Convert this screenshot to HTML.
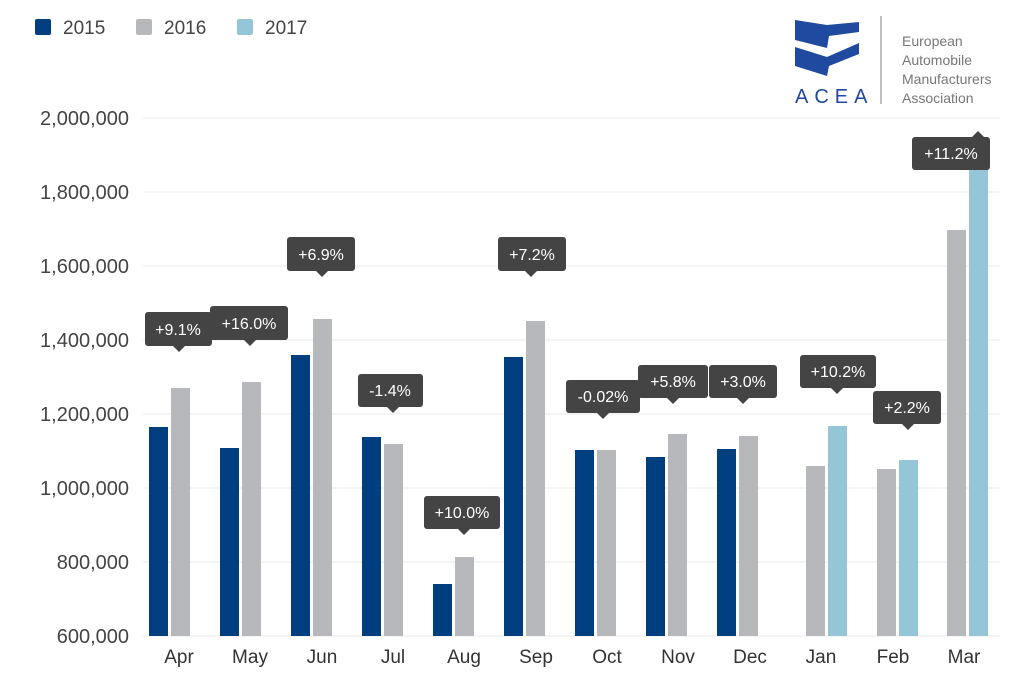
<!DOCTYPE html>
<html><head><meta charset="utf-8"><style>
body{margin:0;background:#fff;width:1024px;height:684px;overflow:hidden;font-family:"Liberation Sans",sans-serif}
</style></head><body>
<svg width="1024" height="684" xmlns="http://www.w3.org/2000/svg" font-family="Liberation Sans, sans-serif">
<g stroke="#e8e8e8" stroke-width="1">
<line x1="143" x2="1000" y1="118" y2="118"/><line x1="143" x2="1000" y1="192" y2="192"/><line x1="143" x2="1000" y1="266" y2="266"/><line x1="143" x2="1000" y1="340" y2="340"/><line x1="143" x2="1000" y1="414" y2="414"/><line x1="143" x2="1000" y1="488" y2="488"/><line x1="143" x2="1000" y1="562" y2="562"/><line x1="143" x2="1000" y1="636" y2="636"/>
</g>
<g font-size="20" fill="#444" text-anchor="end">
<text x="129" y="125">2,000,000</text><text x="129" y="199">1,800,000</text><text x="129" y="273">1,600,000</text><text x="129" y="347">1,400,000</text><text x="129" y="421">1,200,000</text><text x="129" y="495">1,000,000</text><text x="129" y="569">800,000</text><text x="129" y="643">600,000</text>
</g>
<g font-size="19" fill="#333" text-anchor="middle">
<text x="179" y="663">Apr</text><text x="250" y="663">May</text><text x="322" y="663">Jun</text><text x="393" y="663">Jul</text><text x="464" y="663">Aug</text><text x="536" y="663">Sep</text><text x="607" y="663">Oct</text><text x="678" y="663">Nov</text><text x="750" y="663">Dec</text><text x="821" y="663">Jan</text><text x="893" y="663">Feb</text><text x="964" y="663">Mar</text>
</g>
<g>
<rect x="149" y="427" width="19" height="209" fill="#003f7f"/><rect x="171" y="388" width="19" height="248" fill="#b7b8bc"/>
<rect x="220" y="448" width="19" height="188" fill="#003f7f"/><rect x="242" y="382" width="19" height="254" fill="#b7b8bc"/>
<rect x="291" y="355" width="19" height="281" fill="#003f7f"/><rect x="313" y="319" width="19" height="317" fill="#b7b8bc"/>
<rect x="362" y="437" width="19" height="199" fill="#003f7f"/><rect x="384" y="444" width="19" height="192" fill="#b7b8bc"/>
<rect x="433" y="584" width="19" height="52" fill="#003f7f"/><rect x="455" y="557" width="19" height="79" fill="#b7b8bc"/>
<rect x="504" y="357" width="19" height="279" fill="#003f7f"/><rect x="526" y="321" width="19" height="315" fill="#b7b8bc"/>
<rect x="575" y="450" width="19" height="186" fill="#003f7f"/><rect x="597" y="450" width="19" height="186" fill="#b7b8bc"/>
<rect x="646" y="457" width="19" height="179" fill="#003f7f"/><rect x="668" y="434" width="19" height="202" fill="#b7b8bc"/>
<rect x="717" y="449" width="19" height="187" fill="#003f7f"/><rect x="739" y="436" width="19" height="200" fill="#b7b8bc"/>
<rect x="806" y="466" width="19" height="170" fill="#b7b8bc"/><rect x="828" y="426" width="19" height="210" fill="#95c6d7"/>
<rect x="877" y="469" width="19" height="167" fill="#b7b8bc"/><rect x="899" y="460" width="19" height="176" fill="#95c6d7"/>
<rect x="947" y="230" width="19" height="406" fill="#b7b8bc"/><rect x="969" y="145" width="19" height="491" fill="#95c6d7"/>
</g>
<g fill="#444" font-size="16" text-anchor="middle">
<g><rect x="145" y="312" width="67" height="34" rx="3"/><path d="M173 346h12l-6 6z"/><text x="178" y="335" fill="#fff">+9.1%</text></g>
<g><rect x="210" y="306" width="78" height="34" rx="3"/><path d="M244 340h12l-6 6z"/><text x="249" y="329" fill="#fff">+16.0%</text></g>
<g><rect x="287" y="237" width="68" height="34" rx="3"/><path d="M316 271h12l-6 6z"/><text x="321" y="260" fill="#fff">+6.9%</text></g>
<g><rect x="358" y="374" width="65" height="33" rx="3"/><path d="M387 407h12l-6 6z"/><text x="390" y="396" fill="#fff">-1.4%</text></g>
<g><rect x="424" y="496" width="76" height="33" rx="3"/><path d="M458 529h12l-6 6z"/><text x="462" y="518" fill="#fff">+10.0%</text></g>
<g><rect x="498" y="237" width="68" height="34" rx="3"/><path d="M525 271h12l-6 6z"/><text x="532" y="260" fill="#fff">+7.2%</text></g>
<g><rect x="566" y="380" width="74" height="33" rx="3"/><path d="M597 413h12l-6 6z"/><text x="603" y="402" fill="#fff">-0.02%</text></g>
<g><rect x="638" y="365" width="70" height="33" rx="3"/><path d="M667 398h12l-6 6z"/><text x="673" y="387" fill="#fff">+5.8%</text></g>
<g><rect x="709" y="365" width="68" height="33" rx="3"/><path d="M737 398h12l-6 6z"/><text x="743" y="387" fill="#fff">+3.0%</text></g>
<g><rect x="800" y="355" width="76" height="33" rx="3"/><path d="M831 388h12l-6 6z"/><text x="838" y="377" fill="#fff">+10.2%</text></g>
<g><rect x="873" y="391" width="68" height="33" rx="3"/><path d="M902 424h12l-6 6z"/><text x="907" y="413" fill="#fff">+2.2%</text></g>
<g><rect x="912" y="137" width="78" height="33" rx="3"/><path d="M972 137h12l-6 -6z"/><text x="951" y="159" fill="#fff">+11.2%</text></g>
</g>
<g font-size="19" fill="#444">
<rect x="35" y="19" width="16" height="16" rx="2" fill="#003f7f"/><text x="63" y="34">2015</text>
<rect x="136" y="19" width="16" height="16" rx="2" fill="#b7b8bc"/><text x="164" y="34">2016</text>
<rect x="237" y="19" width="16" height="16" rx="2" fill="#95c6d7"/><text x="265" y="34">2017</text>
</g>
<g fill="#1f4aa0">
<path d="M795 20l32 5 32-3v10l-30 4-2 12-32-8z"/>
<path d="M795 47l32 10 32-14v11l-30 12-2 10-32-10z"/>
</g>
<text x="795" y="103" font-size="20" fill="#1f4aa0" letter-spacing="6">ACEA</text>
<line x1="881" y1="16" x2="881" y2="104" stroke="#aaa" stroke-width="1.5"/>
<g font-size="14" fill="#777">
<text x="902" y="46">European</text><text x="902" y="65">Automobile</text><text x="902" y="84">Manufacturers</text><text x="902" y="103">Association</text>
</g>
</svg>
</body></html>
